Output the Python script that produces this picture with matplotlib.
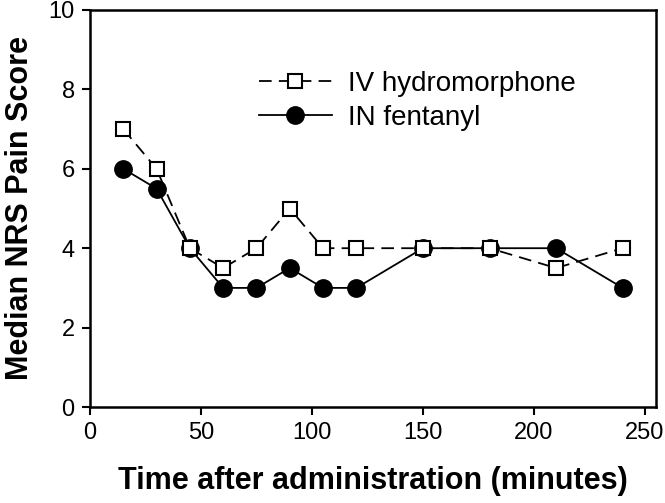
import matplotlib
matplotlib.use("Agg")
import matplotlib.pyplot as plt

time_min = [15, 30, 45, 60, 75, 90, 105, 120, 150, 180, 210, 240]
iv_hydromorphone = [7, 6, 4, 3.5, 4, 5, 4, 4, 4, 4, 3.5, 4]
in_fentanyl = [6, 5.5, 4, 3, 3, 3.5, 3, 3, 4, 4, 4, 3]
x_ticks = [0, 50, 100, 150, 200, 250]
y_ticks = [0, 2, 4, 6, 8, 10]

plt.rcParams['font.family'] = ['Liberation Sans', 'DejaVu Sans']

fig = plt.figure(figsize=(6.65, 5.03), dpi=100)
ax = fig.add_axes([90/665, 1-407/503, (656-90)/665, (407-10)/503])

ax.plot(time_min, iv_hydromorphone, color='black', linestyle=(0, (7, 4)), linewidth=1.3,
        marker='s', markersize=10, markerfacecolor='white', markeredgecolor='black',
        markeredgewidth=1.5, label='IV hydromorphone', zorder=3)
ax.plot(time_min, in_fentanyl, color='black', linestyle='-', linewidth=1.3,
        marker='o', markersize=12.5, markerfacecolor='black', markeredgecolor='black',
        label='IN fentanyl', zorder=2)

ax.set_xlim(0, 255)
ax.set_ylim(0, 10)
ax.set_xticks(x_ticks)
ax.set_yticks(y_ticks)
ax.tick_params(direction='out', length=6, width=1.5, labelsize=17, pad=5)
for s in ax.spines.values():
    s.set_linewidth(1.8)

ax.set_xlabel('Time after administration (minutes)', fontsize=22, fontweight='bold', labelpad=16)
ax.set_ylabel('Median NRS Pain Score', fontsize=22, fontweight='bold', labelpad=10)

ax.legend(loc='upper left', bbox_to_anchor=(0.255, 0.91), frameon=False, fontsize=20,
          handlelength=2.6, handletextpad=0.6, labelspacing=0.3)

fig.savefig('out.png', dpi=100)
